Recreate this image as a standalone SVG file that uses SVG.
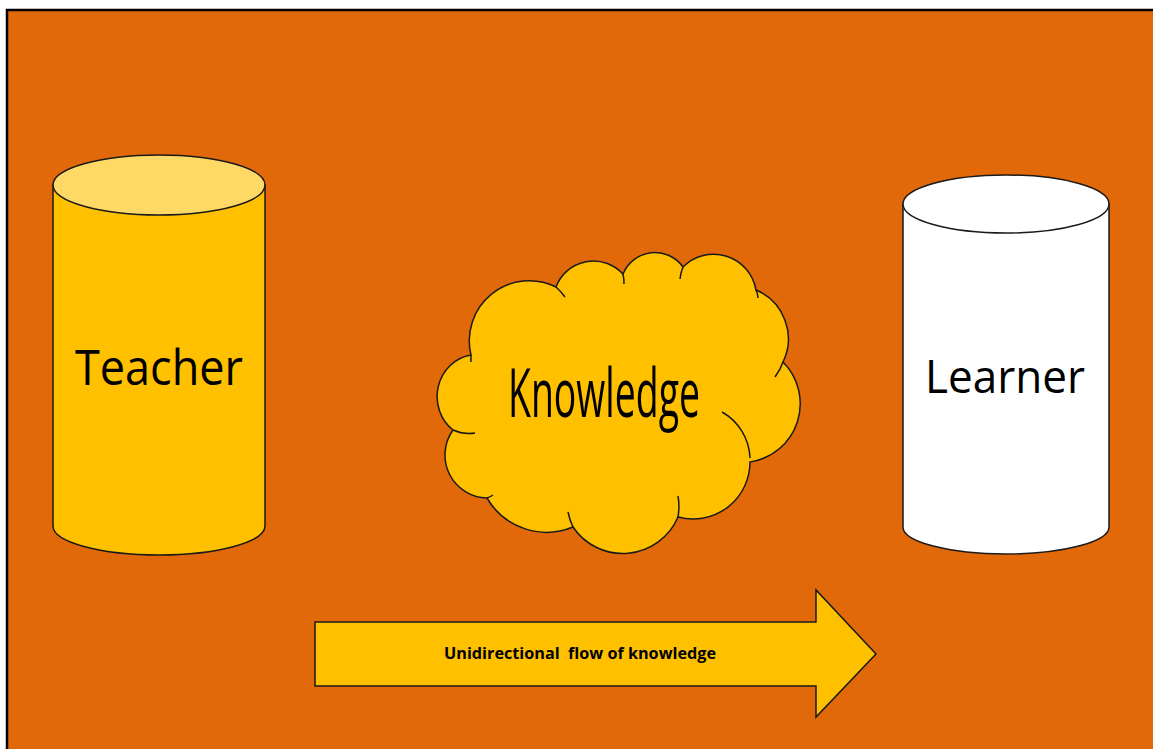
<svg xmlns="http://www.w3.org/2000/svg" width="1153" height="749" viewBox="0 0 1153 749">
<style>
.shape{stroke:#1a1a1a;stroke-width:1.5}
.gold{fill:#FFC000}
.tick{fill:none;stroke:#1a1a1a;stroke-width:1.5}
.lbl{font-family:"Open Sans","Liberation Sans",sans-serif;fill:#000}
</style>
<rect x="0" y="0" width="1153" height="749" fill="#ffffff"/>
<rect x="7" y="10" width="1150" height="745" fill="#E2690A" stroke="#000" stroke-width="2.5"/>

<g id="teacher">
<path class="shape gold" d="M53,185 L53,526 A106,29 0 0 0 265,526 L265,185 Z"/>
<ellipse class="shape" cx="159" cy="185" rx="106" ry="30" fill="#FFD966"/>
<text class="lbl" x="159" y="385" font-size="50" text-anchor="middle" textLength="168" lengthAdjust="spacingAndGlyphs">Teacher</text>
</g>

<g id="knowledge">
<path class="shape gold" d="M453,430 A40,42 0 0 1 471,355 A60,60 0 0 1 556,287 A40,40 0 0 1 623,274 A34.5,34.5 0 0 1 683,267 A43,43 0 0 1 756,290 A53,53 0 0 1 783,362 A59,59 0 0 1 750,462 A57,57 0 0 1 678,517 A60,60 0 0 1 573,527 A69,69 0 0 1 487,498 A43,43 0 0 1 453,430 Z"/>
<path class="tick" d="M556,287 A60,60 0 0 1 565,297"/>
<path class="tick" d="M623,274 A40,40 0 0 1 624,284"/>
<path class="tick" d="M680,279 A43,43 0 0 1 683,267"/>
<path class="tick" d="M756,290 A20,20 0 0 1 758,298"/>
<path class="tick" d="M783,362 A53,53 0 0 1 775,377"/>
<path class="tick" d="M722,412 A55,55 0 0 1 750,458"/>
<path class="tick" d="M678,496 A60,60 0 0 1 678,517"/>
<path class="tick" d="M573,527 A60,60 0 0 1 568,512"/>
<path class="tick" d="M493,495 Q490,497 487,498"/>
<path class="tick" d="M475,433 A40,42 0 0 1 453,430"/>
<path class="tick" d="M471,362 A60,60 0 0 1 471,355"/>
<text class="lbl" x="604" y="417" font-size="68" text-anchor="middle" textLength="192" lengthAdjust="spacingAndGlyphs">Knowledge</text>
</g>

<g id="learner">
<path class="shape" fill="#ffffff" d="M903,204 L903,527 A103,27 0 0 0 1109,527 L1109,204 Z"/>
<ellipse class="shape" cx="1006" cy="204" rx="103" ry="29" fill="#ffffff"/>
<text class="lbl" x="1005" y="393" font-size="46" text-anchor="middle" textLength="160" lengthAdjust="spacingAndGlyphs">Learner</text>
</g>

<g id="connectors">
<g id="flow-arrow">
<path class="shape gold" d="M315,622 L816,622 L816,590 L876,654 L816,717 L816,686 L315,686 Z"/>
<text class="lbl" x="580" y="659" font-size="16" font-weight="bold" text-anchor="middle" textLength="272" lengthAdjust="spacingAndGlyphs" xml:space="preserve">Unidirectional  flow of knowledge</text>
</g>
</g>
</svg>
